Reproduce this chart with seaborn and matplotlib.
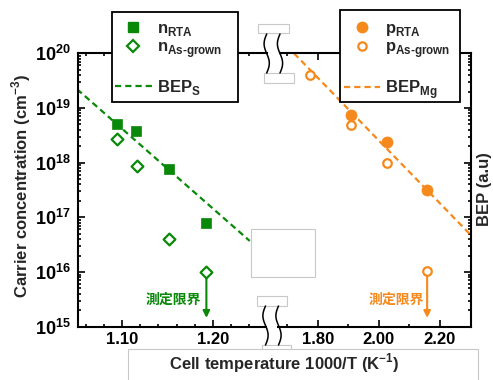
import numpy as np
import pandas as pd
import matplotlib
matplotlib.use("Agg")
import matplotlib.pyplot as plt
import seaborn as sns
from matplotlib.lines import Line2D
from matplotlib.patches import Rectangle
from matplotlib.ticker import FixedLocator, LogLocator, NullFormatter, FixedFormatter

# ---------------- data ----------------
n_rta_x = [1.094, 1.115, 1.152, 1.193]
n_rta_y = [5.1e18, 3.8e18, 7.6e17, 7.8e16]
n_ag_x = [1.094, 1.116, 1.152, 1.193]
n_ag_y = [2.7e18, 8.7e17, 4.0e16, 1.0e16]
bep_s_x = [1.05, 1.241]
bep_s_y = [2.2e19, 3.7e16]

p_rta_x = [1.910, 2.026, 2.158]
p_rta_y = [7.4e18, 2.4e18, 3.1e17]
p_ag_x = [1.773, 1.910, 2.026, 2.158]
p_ag_y = [4.0e19, 4.8e18, 9.7e17, 1.05e16]
bep_mg_x = [1.722, 2.30]
bep_mg_y = [1.0e20, 4.8e16]

left_major = [1.10, 1.20]
left_minor = [1.06, 1.08, 1.12, 1.14, 1.16, 1.18, 1.22, 1.24]
right_major = [1.80, 2.00, 2.20]
right_minor = [1.70, 1.90, 2.10]
left_ticklabels = ["1.10", "1.20"]
right_ticklabels = ["1.80", "2.00", "2.20"]

limit_text = "測定限界"
GREEN = "#0a880a"
ORANGE = "#f5891c"

sns.set_theme(style="ticks")
plt.rcParams["font.family"] = ["Liberation Sans", "Noto Sans CJK JP", "DejaVu Sans"]
plt.rcParams["font.weight"] = "bold"
plt.rcParams["axes.linewidth"] = 1.5

W, H = 493, 380
fig = plt.figure(figsize=(W / 100, H / 100), dpi=100)
fig.patch.set_facecolor("white")

def fx(x):
    return x / W

def fy(y):
    return 1 - y / H

yb, yt = 326.7, 53.3
xl, xm, xr = 77.5, 272.0, 470.5
ax1 = fig.add_axes([fx(xl), fy(yb), (xm - xl) / W, (yb - yt) / H])
ax2 = fig.add_axes([fx(xm), fy(yb), (xr - xm) / W, (yb - yt) / H], sharey=ax1)

for ax in (ax1, ax2):
    ax.set_yscale("log")
    ax.set_facecolor("white")
    ax.patch.set_alpha(0)
ax1.set_ylim(1e15, 1e20)
ax1.set_xlim(1.0504, 1.2656)
ax2.set_xlim(1.65, 2.30)

# ---------------- left panel ----------------
sns.lineplot(x=bep_s_x, y=bep_s_y, ax=ax1, color=GREEN, lw=1.6,
             linestyle=(0, (2.8, 1.8)), zorder=2)
sns.scatterplot(x=n_rta_x, y=n_rta_y, ax=ax1, marker="s", s=44,
                color=GREEN, edgecolor=GREEN, linewidth=0.5, zorder=4)
ax1.annotate("", xy=(n_ag_x[-1], 1.45e15), xytext=(n_ag_x[-1], n_ag_y[-1]),
             arrowprops=dict(arrowstyle="-|>", color=GREEN, lw=1.5,
                             mutation_scale=10, shrinkA=0, shrinkB=0), zorder=3)
sns.scatterplot(x=n_ag_x, y=n_ag_y, ax=ax1, marker="D", s=36,
                facecolor="white", edgecolor=GREEN, linewidth=1.6, zorder=4)
ax1.text(1.157, 10 ** 15.49, limit_text, color=GREEN, fontsize=10,
         ha="center", va="center", family=["Noto Sans CJK JP"], weight="bold")

# ---------------- right panel ----------------
sns.lineplot(x=bep_mg_x, y=bep_mg_y, ax=ax2, color=ORANGE, lw=1.6,
             linestyle=(0, (2.8, 1.8)), zorder=2)
sns.scatterplot(x=p_rta_x, y=p_rta_y, ax=ax2, marker="o", s=64,
                color=ORANGE, edgecolor=ORANGE, linewidth=0.5, zorder=4)
ax2.annotate("", xy=(p_ag_x[-1], 1.45e15), xytext=(p_ag_x[-1], p_ag_y[-1]),
             arrowprops=dict(arrowstyle="-|>", color=ORANGE, lw=1.5,
                             mutation_scale=10, shrinkA=0, shrinkB=0), zorder=3)
sns.scatterplot(x=p_ag_x, y=p_ag_y, ax=ax2, marker="o", s=38,
                facecolor="white", edgecolor=ORANGE, linewidth=1.6, zorder=4)
ax2.text(2.056, 10 ** 15.49, limit_text, color=ORANGE, fontsize=10,
         ha="center", va="center", family=["Noto Sans CJK JP"], weight="bold")

# ---------------- axes styling ----------------
ax1.spines["right"].set_visible(False)
ax2.spines["left"].set_visible(False)
for ax in (ax1, ax2):
    for s in ax.spines.values():
        s.set_linewidth(1.5)
        s.set_color("black")
    ax.set_xlabel("")
    ax.set_ylabel("")

ax1.xaxis.set_major_locator(FixedLocator(left_major))
ax1.xaxis.set_major_formatter(FixedFormatter(left_ticklabels))
ax1.xaxis.set_minor_locator(FixedLocator(left_minor))
ax2.xaxis.set_major_locator(FixedLocator(right_major))
ax2.xaxis.set_major_formatter(FixedFormatter(right_ticklabels))
ax2.xaxis.set_minor_locator(FixedLocator(right_minor))
ax1.yaxis.set_major_locator(LogLocator(base=10, numticks=10))
ax1.yaxis.set_minor_locator(LogLocator(base=10, subs=np.arange(2, 10), numticks=10))
ax1.yaxis.set_minor_formatter(NullFormatter())

ax1.tick_params(axis="both", which="both", direction="in", top=True, bottom=True,
                left=True, right=False, width=1.2, colors="black")
ax1.tick_params(which="major", length=5)
ax1.tick_params(which="minor", length=2.5)
ax1.tick_params(axis="y", pad=5, labelsize=13)
ax1.tick_params(axis="x", pad=4, labelsize=12)
ax2.tick_params(axis="both", which="both", direction="in", top=True, bottom=True,
                left=False, right=True, labelleft=False, labelright=False,
                width=1.2, colors="black")
ax2.tick_params(which="major", length=5)
ax2.tick_params(which="minor", length=2.5)
ax2.tick_params(axis="x", pad=4, labelsize=12)
for lab in ax1.get_xticklabels() + ax1.get_yticklabels() + ax2.get_xticklabels():
    lab.set_fontweight("bold")

# ---------------- decorations helper ----------------
def rect_px(x0, y0, x1, y1, ec="#c8c8c8", lw=0.8, z=6):
    r = Rectangle((fx(x0), fy(y1)), (x1 - x0) / W, (y1 - y0) / H,
                  transform=fig.transFigure, facecolor="white", edgecolor=ec,
                  lw=lw, zorder=z)
    fig.add_artist(r)

# ---------------- legends (frame drawn as a box, entries via legend) ----------------
blank = Line2D([], [], ls="none", marker=None)
h1 = [Line2D([], [], ls="none", marker="s", ms=6.5, color=GREEN),
      Line2D([], [], ls="none", marker="D", ms=6.0, mfc="white", mec=GREEN, mew=1.6),
      blank,
      Line2D([], [], color=GREEN, lw=1.6, ls=(0, (2.8, 1.8)))]
l1 = ["n$_{\\mathdefault{RTA}}$", "n$_{\\mathdefault{As\u2010grown}}$", " ", "BEP$_{\\mathdefault{S}}$"]
h2 = [Line2D([], [], ls="none", marker="o", ms=7.5, color=ORANGE),
      Line2D([], [], ls="none", marker="o", ms=6.0, mfc="white", mec=ORANGE, mew=1.6),
      blank,
      Line2D([], [], color=ORANGE, lw=1.6, ls=(0, (2.8, 1.8)))]
l2 = ["p$_{\\mathdefault{RTA}}$", "p$_{\\mathdefault{As\u2010grown}}$", " ", "BEP$_{\\mathdefault{Mg}}$"]

rect_px(112.3, 11.7, 238.3, 101.7, ec="black", lw=1.3, z=8)
rect_px(340, 10, 460, 101.7, ec="black", lw=1.3, z=8)

leg_kw = dict(loc="upper left", bbox_transform=fig.transFigure, frameon=False,
              borderaxespad=0, borderpad=0, handlelength=2.2, handletextpad=0.3,
              labelspacing=0.1, prop={"weight": "bold", "size": 12})
leg1 = fig.legend(h1, l1, bbox_to_anchor=(fx(115), fy(21)), **leg_kw)
leg1.set_zorder(9)
leg2 = fig.legend(h2, l2, bbox_to_anchor=(fx(343.5), fy(21)), **leg_kw)
leg2.set_zorder(9)

# ---------------- break marks and cover boxes ----------------
rect_px(268, 49, 279, 58, ec="none", z=6)
rect_px(267, 322, 277, 331, ec="none", z=6)

def wave(x0, y0, y1):
    t = np.linspace(0, 1, 60)
    xs = x0 - 2.6 * np.sin(2 * np.pi * t)
    ys = y0 + (y1 - y0) * t
    fig.add_artist(Line2D(fx(xs), fy(ys), transform=fig.transFigure,
                          color="black", lw=1.1, zorder=7))

for x0 in (266.7, 280.0):
    wave(x0, 34, 73)
for x0 in (265.5, 278.5):
    wave(x0, 306, 345)

rect_px(258, 24, 289, 33)
rect_px(264, 73, 294, 83)
rect_px(256.7, 296, 286.7, 306)
rect_px(261.7, 345, 291, 352)
rect_px(251, 229.3, 315.3, 277.3)
rect_px(128, 349, 478, 392, z=6)

# ---------------- axis labels ----------------
fig.text(fx(284), fy(363), "Cell temperature 1000/T (K$^{\\mathdefault{-1}}$)",
         ha="center", va="center", fontsize=12, weight="bold", zorder=8)
fig.text(fx(21), fy(186.5), "Carrier concentration (cm$^{\\mathdefault{-3}}$)",
         ha="center", va="center", rotation=90, fontsize=12, weight="bold")
fig.text(fx(484.5), fy(189), "BEP (a.u)", ha="center", va="center",
         rotation=90, fontsize=12, weight="bold")

fig.savefig("out.png", dpi=100, facecolor="white")
